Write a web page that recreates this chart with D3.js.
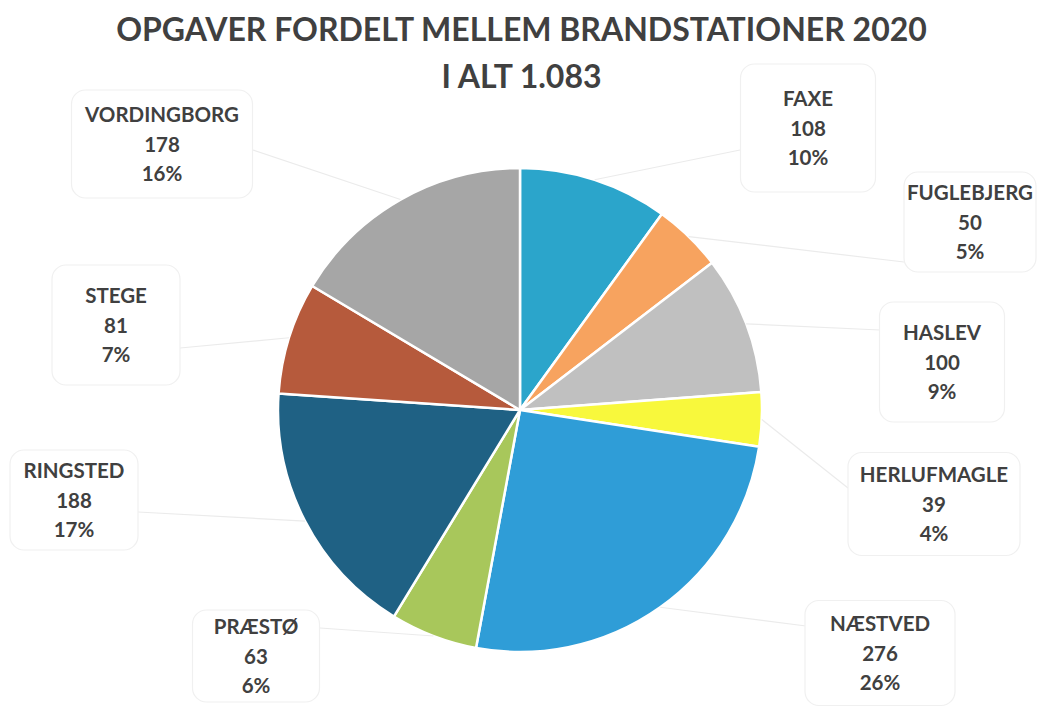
<!DOCTYPE html>
<html><head><meta charset="utf-8">
<script src="https://cdn.jsdelivr.net/npm/d3@7"></script>
<style>
html,body{margin:0;padding:0;background:#fff;}
svg{display:block;}
text{font-family:Lato,"Open Sans",sans-serif;font-weight:700;fill:#404040;}
</style></head>
<body><svg id="chart" width="1043" height="707"></svg>
<script>
const titleLines = ["OPGAVER FORDELT MELLEM BRANDSTATIONER 2020", "I ALT 1.083"];
const stations = ["FAXE","FUGLEBJERG","HASLEV","HERLUFMAGLE","NÆSTVED","PRÆSTØ","RINGSTED","STEGE","VORDINGBORG"];
const counts = [108, 50, 100, 39, 276, 63, 188, 81, 178];
const percents = ["10%","5%","9%","4%","26%","6%","17%","7%","16%"];
const colors = ["#2ba5cb","#f7a35f","#c0c0c0","#f8f83c","#2f9dd7","#a8c75b","#1f6184","#b65a3c","#a6a6a6"];

// layout: label box centre/size and leader-line anchor on the box (not data)
const labelLayout = [
  {cx:808, cy:128, w:135, h:128, lx:740, ly:150},
  {cx:970, cy:222, w:132, h:100, lx:904, ly:262},
  {cx:942, cy:362, w:125, h:120, lx:880, ly:330},
  {cx:934, cy:504, w:172, h:103, lx:848, ly:488},
  {cx:880, cy:653, w:150, h:105, lx:806, ly:626},
  {cx:256, cy:656, w:127, h:92,  lx:320, ly:628},
  {cx:74,  cy:500, w:128, h:100, lx:138, ly:512},
  {cx:116, cy:325, w:128, h:120, lx:180, ly:348},
  {cx:162, cy:144, w:181, h:108, lx:253, ly:150}
];

const svg = d3.select("#chart");
const W = 1043, H = 707;
const cx = 520, cy = 410, R = 242;

svg.selectAll("text.title").data(titleLines).enter().append("text")
  .attr("class","title")
  .attr("x", W/2).attr("y", (d,i)=> 41 + i*47)
  .attr("text-anchor","middle")
  .style("font-size","32px")
  .text(d=>d);

const data = stations.map((s,i)=>({name:s, value:counts[i], pct:percents[i], color:colors[i], lay:labelLayout[i]}));
const pie = d3.pie().value(d=>d.value).sort(null).startAngle(0).endAngle(2*Math.PI);
const arcs = pie(data);
const arc = d3.arc().innerRadius(0).outerRadius(R);
const arcEdge = d3.arc().innerRadius(R).outerRadius(R);

const g = svg.append("g").attr("transform",`translate(${cx},${cy})`);

// leader lines
svg.append("g").selectAll("path").data(arcs).enter().append("path")
  .attr("d", d=>{
    const c = arcEdge.centroid(d);
    return `M${d.data.lay.lx},${d.data.lay.ly}L${cx+c[0]},${cy+c[1]}`;
  })
  .attr("fill","none").attr("stroke","#ebebeb").attr("stroke-width",1.2);

g.selectAll("path").data(arcs).enter().append("path")
  .attr("d", arc)
  .attr("fill", d=>d.data.color)
  .attr("stroke","#fff").attr("stroke-width",2.5).attr("stroke-linejoin","round");

// label boxes
const lg = svg.append("g");
const lab = lg.selectAll("g").data(arcs).enter().append("g");
lab.append("rect")
  .attr("x", d=>d.data.lay.cx - d.data.lay.w/2)
  .attr("y", d=>d.data.lay.cy - d.data.lay.h/2)
  .attr("width", d=>d.data.lay.w).attr("height", d=>d.data.lay.h)
  .attr("rx",14).attr("fill","#fff").attr("stroke","#f0f0f0").attr("stroke-width",1.2);
lab.each(function(d){
  const lines = [d.data.name, String(d.data.value), d.data.pct];
  d3.select(this).selectAll("text").data(lines).enter().append("text")
    .attr("x", d.data.lay.cx)
    .attr("y", (t,i)=> d.data.lay.cy - 22 + i*29.5)
    .attr("text-anchor","middle")
    .style("font-size","20.5px")
    .text(t=>t);
});
</script></body></html>
